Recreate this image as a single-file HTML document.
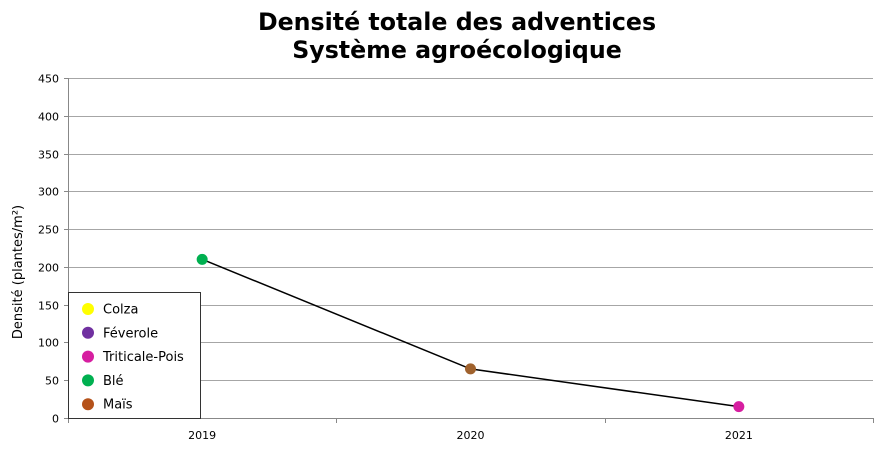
<!DOCTYPE html>
<html><head><meta charset="utf-8"><style>
body{margin:0;background:#fff;}
svg{display:block;font-family:"DejaVu Sans","Liberation Sans",sans-serif;}
</style></head><body>
<svg id="chart" width="889" height="452">
<text x="457" y="30" text-anchor="middle" font-size="23.7" font-weight="bold">Densité totale des adventices</text>
<text x="457" y="58" text-anchor="middle" font-size="23.7" font-weight="bold">Système agroécologique</text>
<text transform="translate(22,272) rotate(-90)" text-anchor="middle" font-size="13">Densité (plantes/m²)</text>
<g id="grid"></g><g id="axes"></g><g id="marks"></g>
<g>
<rect x="68.5" y="292.5" width="132" height="126" fill="#fff" stroke="#333"/>
<g id="legend"></g>
</g>
</svg>
<script>
const categories=["2019","2020","2021"];
const values=[210,65,15];
const pointColors=["#00b050","#a0622d","#d61ea0"];
const yTicks=[0,50,100,150,200,250,300,350,400,450];
const legendLabels=["Colza","Féverole","Triticale-Pois","Blé","Maïs"];
const legendColors=["#ffff00","#7030a0","#d61ea0","#00b050","#b5521a"];
const NS="http://www.w3.org/2000/svg";
const L=68,R=873,T=78,B=418,yMax=450;
const y=v=>B-(v/yMax)*(B-T);
const bw=(R-L)/categories.length;
const x=i=>L+bw*(i+0.5);
function mk(t,a,p){const e=document.createElementNS(NS,t);for(const k in a)e.setAttribute(k,a[k]);p.appendChild(e);return e;}
const grid=document.getElementById('grid'),axes=document.getElementById('axes'),marks=document.getElementById('marks'),leg=document.getElementById('legend');
yTicks.forEach(t=>{
 const yy=Math.round(y(t))+0.5;
 if(t>0){const g=mk('line',{x1:L,x2:R,y1:yy,y2:yy,stroke:'#a6a6a6'},grid);
 
 }
 mk('line',{x1:L-4,x2:L,y1:yy,y2:yy,stroke:'#888'},axes);
 const tx=mk('text',{x:L-9,y:yy+4,'text-anchor':'end','font-size':11},axes);tx.textContent=t;
 
 
});
mk('line',{x1:L+0.5,x2:L+0.5,y1:T,y2:B,stroke:'#888'},axes);
mk('line',{x1:L,x2:R,y1:B+0.5,y2:B+0.5,stroke:'#888'},axes);
for(let i=0;i<=categories.length;i++){const xx=Math.round(L+bw*i)+0.5;mk('line',{x1:xx,x2:xx,y1:B,y2:B+5,stroke:'#888'},axes);}
categories.forEach((c,i)=>{const tx=mk('text',{x:x(i),y:439,'text-anchor':'middle','font-size':11},axes);tx.textContent=c;
 
 });
const line=mk('polyline',{points:values.map((v,i)=>x(i)+','+y(v)).join(' '),fill:'none',stroke:'#000','stroke-width':1.5},marks);


values.forEach((v,i)=>{const c=mk('circle',{cx:x(i),cy:y(v),r:5.5,fill:pointColors[i]},marks);
 
 });
legendLabels.forEach((l,i)=>{const yy=309+i*23.8;
 const c=mk('circle',{cx:88,cy:yy,r:6,fill:legendColors[i]},leg);
 
 
 const t=mk('text',{x:103,y:yy+4.5,'font-size':13},leg);t.textContent=l;
 
 });
</script>
</body></html>
